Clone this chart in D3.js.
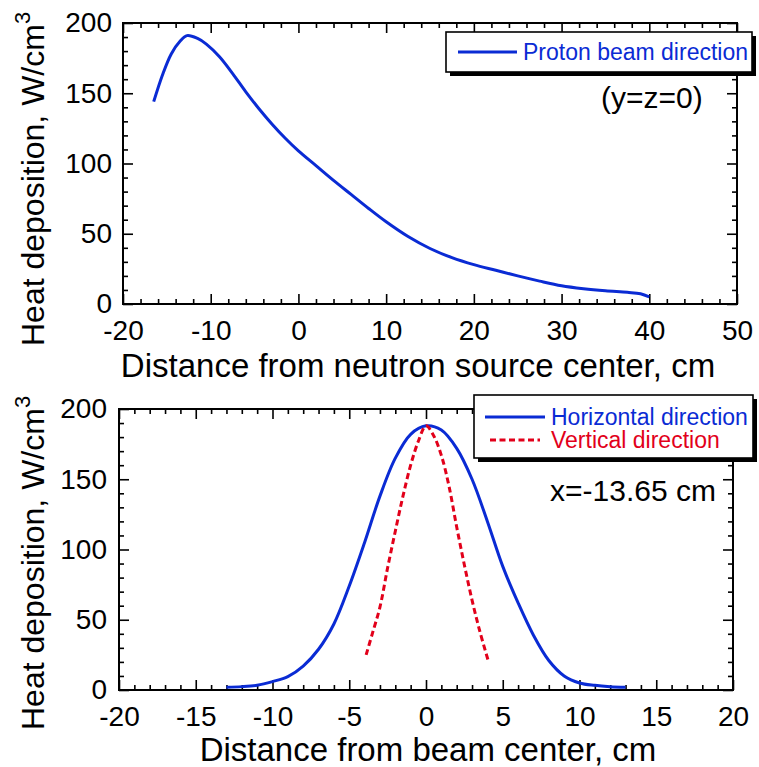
<!DOCTYPE html>
<html><head><meta charset="utf-8">
<script src="https://cdn.jsdelivr.net/npm/d3@7"></script>
<style>
body{margin:0;background:#fff}
svg{display:block}
text{font-family:"Liberation Sans",Arial,Helvetica,sans-serif}
</style>
</head><body>
<svg id="c" width="759" height="767"></svg>
<script>
// ---- data ----
const beamX = [-16.5,-15.5,-14.5,-13.5,-12.7,-11.5,-10.5,-9,-7.5,-6,-4.5,-3,-1.5,0,2,4,6,8,10,12.5,15,17.5,20,22.5,25,27.5,30,32.5,35,37.5,39,40];
const beamY = [144,163,178,187,191,189,185,176,164,151,139,128,118,109,98.5,88,78,68,58.5,48,39.5,33,28,24,20,16.3,13,10.9,9.4,8.3,7.3,5];

const horizX = [-13,-12,-11,-10,-9,-8,-7,-6,-5,-4,-3,-2,-1,0,1,2,3,4,5,6,7,8,9,10,11,12,13];
const horizY = [2,2.4,3.4,6,9.5,17,29,47,74,105,138,165,182,188,185,172,150,120,88,62,39,21,10,5,3.3,2.4,2];

const vertX = [-3.9,-3.5,-3,-2.5,-2,-1.5,-1,-0.5,0,0.5,1,1.5,2,2.5,3,3.5,4.05];
const vertY = [25,40,59,87,113,138,160,177,188,181,167,145,116,89,64,42,21];

const topXTicks = [-20,-10,0,10,20,30,40,50];
const botXTicks = [-20,-15,-10,-5,0,5,10,15,20];
const yTicks = [0,50,100,150,200];

const topLegend = ["Proton beam direction"];
const botLegend = ["Horizontal direction","Vertical direction"];
const topNote = "(y=z=0)";
const botNote = "x=-13.65 cm";
const topXTitle = "Distance from neutron source center, cm";
const botXTitle = "Distance from beam center, cm";
const yTitleMain = "Heat deposition, W/cm";
const yTitleSup = "3";

const BLUE = "#0a2bd4", RED = "#e2001a";
const svg = d3.select("#c");

function panel(o){
  const x = d3.scaleLinear().domain(o.xDomain).range([o.L, o.R]);
  const y = d3.scaleLinear().domain([0,200]).range([o.B, o.T]);
  const g = svg.append("g");
  const xMinor = d3.range(o.xDomain[0], o.xDomain[1]+1e-9, o.xMinorStep).filter(v=>!o.xTicks.includes(v));
  const yMinor = d3.range(0, 200.0001, 10).filter(v=>!yTicks.includes(v));

  function ax(axisFn, scale, vals, size, tr, labels, pad){
    const a = axisFn(scale).tickValues(vals).tickSizeInner(-size).tickSizeOuter(0);
    if(labels) a.tickPadding(pad).tickFormat(d=>String(d)); else a.tickFormat("");
    const s = g.append("g").attr("transform", tr).call(a);
    s.select(".domain").remove();
    s.selectAll("line").attr("stroke","#000").attr("stroke-width",1.6);
    s.selectAll("text").attr("font-size",28).attr("fill","#000").attr("font-family",null);
    return s;
  }
  ax(d3.axisBottom, x, o.xTicks, 10, `translate(0,${o.B})`, true, 16);
  ax(d3.axisBottom, x, xMinor, 5, `translate(0,${o.B})`, false);
  ax(d3.axisTop, x, o.xTicks, 10, `translate(0,${o.T})`, false);
  ax(d3.axisTop, x, xMinor, 5, `translate(0,${o.T})`, false);
  ax(d3.axisLeft, y, yTicks, 10, `translate(${o.L},0)`, true, o.yPad);
  ax(d3.axisLeft, y, yMinor, 5, `translate(${o.L},0)`, false);
  ax(d3.axisRight, y, yTicks, 10, `translate(${o.R},0)`, false);
  ax(d3.axisRight, y, yMinor, 5, `translate(${o.R},0)`, false);

  g.append("rect").attr("x",o.L).attr("y",o.T).attr("width",o.R-o.L).attr("height",o.B-o.T)
    .attr("fill","none").attr("stroke","#000").attr("stroke-width",2);

  const line = d3.line().x(d=>x(d[0])).y(d=>y(d[1])).curve(d3.curveCatmullRom.alpha(0.5));
  o.series.forEach(s=>{
    g.append("path").datum(d3.zip(s.xs, s.ys)).attr("d", line)
      .attr("fill","none").attr("stroke", s.color).attr("stroke-width",3)
      .attr("stroke-dasharray", s.dash || null).attr("stroke-linejoin","round");
  });

  g.append("text").attr("x", o.xTitleX).attr("y", o.xTitleY).attr("text-anchor","middle")
    .attr("font-size",33).text(o.xTitle);
  const yt = g.append("text").attr("transform",`translate(${o.yTitleX},${o.yTitleY}) rotate(-90)`)
    .attr("font-size",32);
  yt.append("tspan").text(yTitleMain);
  yt.append("tspan").attr("font-size",22).attr("dy",-14).text(yTitleSup);

  const lg = o.legend;
  g.append("rect").attr("x",lg.x+4).attr("y",lg.y+4).attr("width",lg.w).attr("height",lg.h).attr("fill","#000");
  g.append("rect").attr("x",lg.x).attr("y",lg.y).attr("width",lg.w).attr("height",lg.h)
    .attr("fill","#fff").attr("stroke","#000").attr("stroke-width",1.6);
  lg.items.forEach((it,i)=>{
    const cy = lg.y + lg.first + i*lg.step;
    g.append("line").attr("x1",it.x1).attr("x2",it.x2).attr("y1",cy).attr("y2",cy)
      .attr("stroke",it.color).attr("stroke-width",3).attr("stroke-dasharray",it.dash||null);
    g.append("text").attr("x",lg.textX).attr("y",cy+8).attr("font-size",23).attr("fill",it.color).text(it.label);
  });
  g.append("text").attr("x",o.note.x).attr("y",o.note.y).attr("font-size",30).text(o.note.text);
}

panel({
  L:123, R:737, T:23, B:304, xDomain:[-20,50], xTicks:topXTicks, xMinorStep:2, yPad:11,
  series:[{xs:beamX, ys:beamY, color:BLUE}],
  xTitle: topXTitle, xTitleX: 418, xTitleY: 377,
  yTitleX: 44, yTitleY: 346,
  legend:{x:446,y:32,w:306,h:40,first:20,step:0,textX:523,
    items:[{label:topLegend[0],color:BLUE,x1:458,x2:517}]},
  note:{x:601,y:108,text:topNote}
});

panel({
  L:119, R:733, T:409, B:690, xDomain:[-20,20], xTicks:botXTicks, xMinorStep:1, yPad:12,
  series:[{xs:horizX, ys:horizY, color:BLUE},{xs:vertX, ys:vertY, color:RED, dash:"6,3.5"}],
  xTitle: botXTitle, xTitleX: 428, xTitleY: 761,
  yTitleX: 44, yTitleY: 730,
  legend:{x:474,y:395,w:279,h:63,first:22,step:23,textX:551,
    items:[{label:botLegend[0],color:BLUE,x1:485,x2:545},{label:botLegend[1],color:RED,x1:490,x2:540,dash:"6,3.5"}]},
  note:{x:550,y:501,text:botNote}
});
</script>
</body></html>
